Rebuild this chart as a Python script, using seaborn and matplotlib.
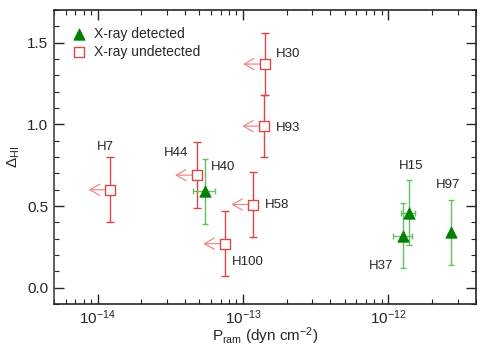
import numpy as np
import pandas as pd
import matplotlib
matplotlib.use("Agg")
import matplotlib.pyplot as plt
from matplotlib.ticker import NullFormatter
import seaborn as sns

# X-ray undetected galaxies (upper limits on P_ram)
names_u = ['H7', 'H44', 'H100', 'H58', 'H30', 'H93']
pram_u = [1.22e-14, 4.8e-14, 7.5e-14, 1.17e-13, 1.41e-13, 1.39e-13]
dhi_u = [0.60, 0.69, 0.27, 0.51, 1.37, 0.99]
dhi_u_err = [0.20, 0.20, 0.20, 0.20, 0.19, 0.19]

# X-ray detected galaxies
names_d = ['H40', 'H37', 'H15', 'H97']
pram_d = [5.5e-14, 1.26e-12, 1.39e-12, 2.72e-12]
pram_d_lo = [4.5e-14, 1.08e-12, 1.23e-12, 2.72e-12]
pram_d_hi = [6.45e-14, 1.45e-12, 1.52e-12, 2.72e-12]
dhi_d = [0.59, 0.32, 0.46, 0.34]
dhi_d_err = [0.20, 0.20, 0.20, 0.20]

x_major = [1e-14, 1e-13, 1e-12]

# label offsets in pixels (dx, dy)
offs = {'H7': (-5, 43), 'H44': (-21, 22), 'H100': (23, -18), 'H58': (24, 0),
        'H30': (23, 10), 'H93': (24, -2), 'H40': (18, 24), 'H37': (-22, -30),
        'H15': (2, 47), 'H97': (-3, 47)}

red = '#d8474a'
red_light = '#ea8a8a'
green = '#008000'
green_light = '#62c062'

sns.set_style('ticks')
plt.rcParams['font.family'] = ['Liberation Sans', 'DejaVu Sans']
plt.rcParams['mathtext.fontset'] = 'custom'
plt.rcParams['mathtext.rm'] = 'Liberation Sans'
plt.rcParams['mathtext.it'] = 'Liberation Sans:italic'

df_u = pd.DataFrame({'name': names_u, 'pram': pram_u, 'dhi': dhi_u, 'err': dhi_u_err})
df_d = pd.DataFrame({'name': names_d, 'pram': pram_d, 'dhi': dhi_d, 'err': dhi_d_err,
                     'lo': pram_d_lo, 'hi': pram_d_hi})

fig = plt.figure(figsize=(4.91, 3.5), dpi=100)
ax = fig.add_axes([0.11, 0.131, 0.859, 0.84])
ax.set_xscale('log')

# undetected: error bars + upper-limit arrows
ax.errorbar(df_u['pram'], df_u['dhi'], yerr=df_u['err'], fmt='none',
            ecolor=red, elinewidth=1.0, capsize=3, capthick=1.0, zorder=2)
for _, r in df_u.iterrows():
    ax.annotate('', xy=(r['pram'] * 0.71, r['dhi']), xytext=(r['pram'], r['dhi']),
                arrowprops=dict(arrowstyle='->,head_length=0.7,head_width=0.4',
                                color=red_light, lw=0.9, shrinkA=0, shrinkB=0), zorder=1)

# detected: error bars
ax.errorbar(df_d['pram'], df_d['dhi'], yerr=df_d['err'],
            xerr=[df_d['pram'] - df_d['lo'], df_d['hi'] - df_d['pram']], fmt='none',
            ecolor=green_light, elinewidth=1.0, capsize=2.5, capthick=1.0, zorder=2)

sns.scatterplot(data=df_d, x='pram', y='dhi', ax=ax, marker='^', s=68, color=green,
                edgecolor=green, linewidth=0.5, label='X-ray detected', zorder=3)
sns.scatterplot(data=df_u, x='pram', y='dhi', ax=ax, marker='s', s=45, facecolor='white',
                edgecolor=red, linewidth=1.0, label='X-ray undetected', zorder=3)

for df in (df_u, df_d):
    for _, r in df.iterrows():
        dx, dy = offs[r['name']]
        ax.annotate(r['name'], (r['pram'], r['dhi']), xytext=(dx, dy),
                    textcoords='offset pixels', ha='center', va='center', fontsize=9.5)

ax.set_xticks(x_major)
ax.set_xlim(5e-15, 4e-12)
ax.xaxis.set_minor_formatter(NullFormatter())
ax.set_yticks([0.0, 0.5, 1.0, 1.5])
ax.set_yticks(np.arange(-0.1, 1.71, 0.1), minor=True)
ax.set_yticklabels(['0.0', '0.5', '1.0', '1.5'])
ax.tick_params(which='both', direction='in', top=True, right=True, labelsize=11)
ax.tick_params(axis='x', pad=3)
ax.tick_params(axis='y', pad=4)
ax.tick_params(which='major', length=7, width=1)
ax.tick_params(which='minor', length=3.5, width=0.8)
for s in ax.spines.values():
    s.set_linewidth(1.2)
ax.spines['left'].set_color('#444444')

ax.set_xlabel(r'P$_\mathrm{ram}$ (dyn cm$^{-2}$)', fontsize=11)
ax.xaxis.set_label_coords(0.5, -0.073)
ax.set_ylabel(r'$\Delta_\mathrm{HI}$', fontsize=11, labelpad=4)

leg = ax.legend(loc='upper left', frameon=False, fontsize=10, handletextpad=0.5,
                borderaxespad=0.8, labelspacing=0.3, handlelength=1.2)

fig.savefig('out.png', dpi=100)
